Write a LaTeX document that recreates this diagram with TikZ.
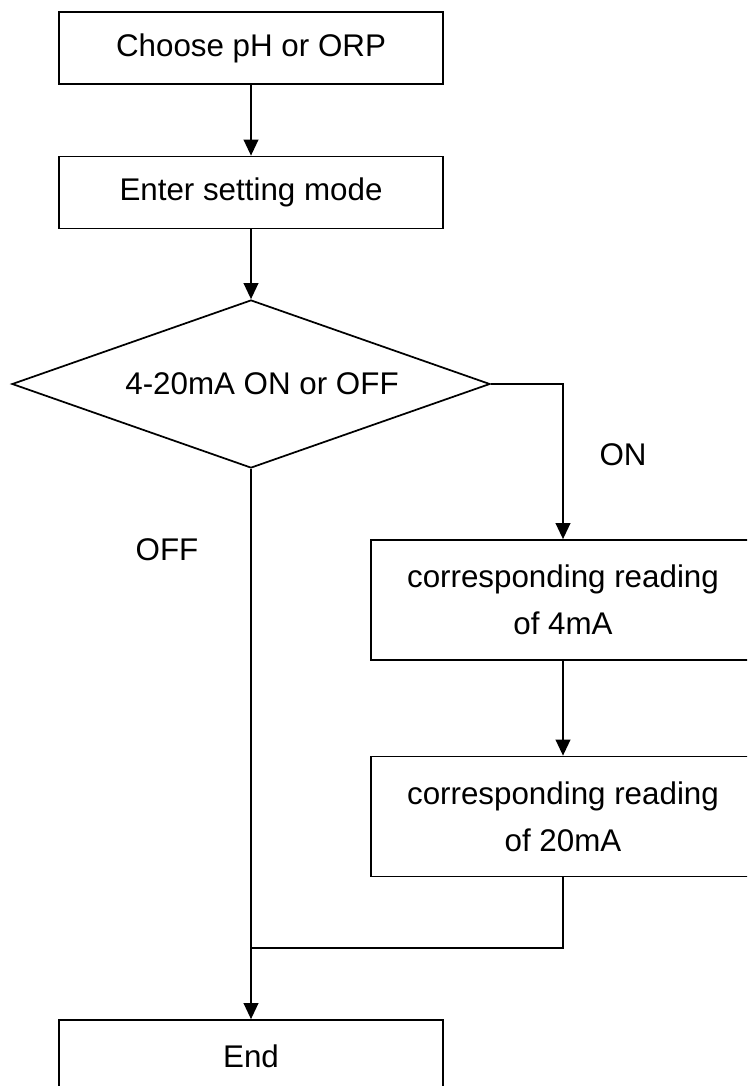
\documentclass[tikz,border=0pt]{standalone}
\usepackage{fontspec}
\setmainfont{Liberation Sans}
\usetikzlibrary{arrows.meta,shapes.geometric}
\tikzset{
  base/.style={draw=black, line width=1.3pt, fill=white, inner sep=0pt,
    font=\fontsize{23.5}{35}\selectfont, align=center},
  stepbox/.style={base, rectangle, minimum width=288.5pt, minimum height=54pt},
  tallbox/.style={base, rectangle, minimum width=288pt, minimum height=90pt},
  decision/.style={base, diamond, aspect=2.845, minimum width=358.5pt, minimum height=126pt},
  flow/.style={line width=1.3pt, -{Triangle[length=12pt,width=11pt]}},
  link/.style={line width=1.3pt},
  tag/.style={font=\fontsize{23.5}{28}\selectfont}
}
\begin{document}
\begin{tikzpicture}[x=0.75pt, y=-0.75pt]
  \clip (0,0) rectangle (747,1086);
  \fill[white] (0,0) rectangle (747,1086);

  \node[stepbox] (choose) at (251,48) {Choose pH or ORP};
  \node[stepbox] (enter) at (251,192.5) {Enter setting mode};
  \node[decision] (mode) at (251,384) {};
  \node[font=\fontsize{23.5}{28}\selectfont] (modetext) at (262,384) {4-20mA ON or OFF};
  \node[tallbox] (low) at (563,600) {corresponding reading\\of 4mA};
  \node[tallbox] (high) at (563,816.5) {corresponding reading\\of 20mA};
  \node[stepbox] (finish) at (251,1056) {End};
  \coordinate (merge) at (251,948);

  \node[tag] (on) at (623,455) {ON};
  \node[tag] (off) at (167,550) {OFF};

  \draw[flow] (choose) -- (enter);
  \draw[flow] (enter) -- (mode);
  \draw[flow] (mode.east) -| (low.north);
  \draw[flow] (low) -- (high);
  \draw[link] (high.south) |- (merge);
  \draw[flow] (mode.south) -- (finish.north);
\end{tikzpicture}
\end{document}
